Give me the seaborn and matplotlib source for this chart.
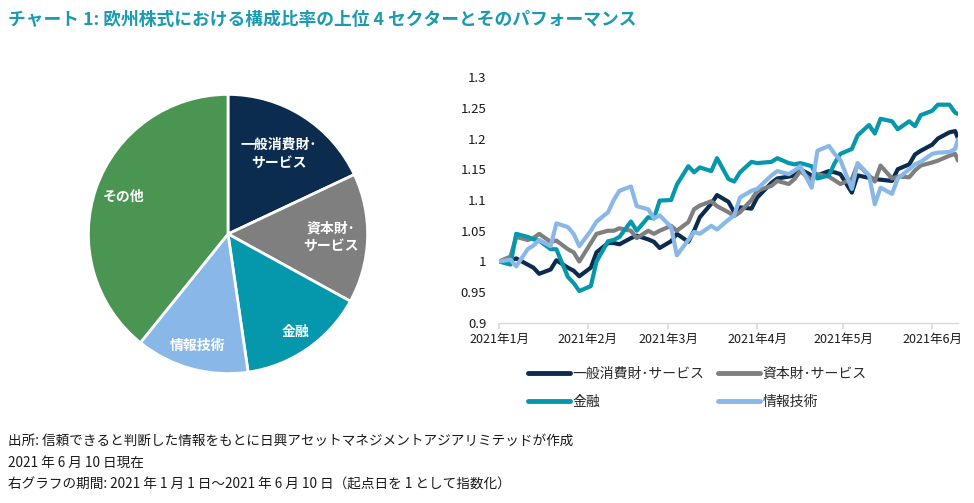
import pandas as pd
import numpy as np
import seaborn as sns
import matplotlib.pyplot as plt
from matplotlib.lines import Line2D

# --- data ---------------------------------------------------------------
title = 'チャート 1: 欧州株式における構成比率の上位 4 セクターとそのパフォーマンス'

sectors = ['一般消費財･サービス', '資本財･サービス', '金融', '情報技術']
pie_labels = ['一般消費財･\nサービス', '資本財･\nサービス', '金融', '情報技術', 'その他']
pie_shares = [18.0, 15.0, 14.7, 13.1, 39.2]

dates = ['2021-01-01', '2021-01-05', '2021-01-07', '2021-01-11', '2021-01-13',
         '2021-01-15', '2021-01-19', '2021-01-21', '2021-01-25', '2021-01-27',
         '2021-01-29', '2021-02-02', '2021-02-04', '2021-02-08', '2021-02-10',
         '2021-02-12', '2021-02-16', '2021-02-18', '2021-02-22', '2021-02-24',
         '2021-02-26', '2021-03-02', '2021-03-04', '2021-03-08', '2021-03-10',
         '2021-03-12', '2021-03-16', '2021-03-18', '2021-03-22', '2021-03-24',
         '2021-03-26', '2021-03-30', '2021-04-01', '2021-04-06', '2021-04-08',
         '2021-04-12', '2021-04-14', '2021-04-16', '2021-04-20', '2021-04-22',
         '2021-04-26', '2021-04-28', '2021-04-30', '2021-05-04', '2021-05-06',
         '2021-05-10', '2021-05-12', '2021-05-14', '2021-05-18', '2021-05-20',
         '2021-05-24', '2021-05-26', '2021-05-28', '2021-06-01', '2021-06-03',
         '2021-06-07', '2021-06-09', '2021-06-10']

consumer = [1.000, 1.002, 1.005, 0.995, 0.990, 0.980, 0.987, 1.002, 0.990, 0.985,
            0.976, 0.990, 1.015, 1.030, 1.030, 1.028, 1.038, 1.042, 1.036, 1.032,
            1.022, 1.033, 1.045, 1.032, 1.050, 1.072, 1.094, 1.108, 1.097, 1.080,
            1.088, 1.086, 1.104, 1.128, 1.135, 1.138, 1.140, 1.150, 1.140, 1.140,
            1.147, 1.145, 1.142, 1.112, 1.140, 1.136, 1.134, 1.133, 1.131, 1.150,
            1.158, 1.174, 1.180, 1.190, 1.200, 1.210, 1.212, 1.200]

industrials = [1.000, 1.008, 1.040, 1.035, 1.038, 1.045, 1.032, 1.034, 1.020, 1.015,
               1.000, 1.030, 1.045, 1.050, 1.050, 1.054, 1.050, 1.038, 1.050, 1.045,
               1.050, 1.058, 1.050, 1.064, 1.085, 1.091, 1.098, 1.090, 1.080, 1.074,
               1.080, 1.100, 1.115, 1.123, 1.131, 1.126, 1.134, 1.147, 1.132, 1.142,
               1.138, 1.132, 1.126, 1.134, 1.158, 1.140, 1.130, 1.156, 1.135, 1.138,
               1.137, 1.148, 1.156, 1.161, 1.164, 1.172, 1.175, 1.164]

financials = [1.000, 0.995, 1.045, 1.040, 1.036, 1.034, 1.020, 1.020, 0.975, 0.965,
              0.952, 0.960, 1.000, 1.033, 1.035, 1.040, 1.065, 1.050, 1.072, 1.070,
              1.099, 1.100, 1.125, 1.155, 1.145, 1.153, 1.147, 1.168, 1.134, 1.130,
              1.145, 1.162, 1.160, 1.162, 1.168, 1.160, 1.158, 1.160, 1.155, 1.135,
              1.140, 1.160, 1.175, 1.183, 1.205, 1.222, 1.208, 1.232, 1.228, 1.215,
              1.228, 1.220, 1.238, 1.245, 1.255, 1.255, 1.242, 1.240]

infotech = [1.000, 1.003, 0.992, 1.020, 1.026, 1.035, 1.025, 1.062, 1.056, 1.045,
            1.025, 1.050, 1.065, 1.080, 1.100, 1.115, 1.122, 1.090, 1.085, 1.070,
            1.075, 1.056, 1.010, 1.035, 1.048, 1.045, 1.058, 1.052, 1.068, 1.075,
            1.104, 1.115, 1.118, 1.140, 1.147, 1.142, 1.148, 1.155, 1.120, 1.180,
            1.188, 1.175, 1.165, 1.118, 1.160, 1.140, 1.093, 1.120, 1.110, 1.135,
            1.150, 1.158, 1.162, 1.175, 1.177, 1.178, 1.183, 1.199]

month_ticks = ['2021-01-01', '2021-02-01', '2021-03-01', '2021-04-01', '2021-05-01', '2021-06-01']
month_labels = ['2021年1月', '2021年2月', '2021年3月', '2021年4月', '2021年5月', '2021年6月']
y_ticks = [0.9, 0.95, 1.0, 1.05, 1.1, 1.15, 1.2, 1.25, 1.3]
y_labels = ['0.9', '0.95', '1', '1.05', '1.1', '1.15', '1.2', '1.25', '1.3']

notes = ['出所: 信頼できると判断した情報をもとに日興アセットマネジメントアジアリミテッドが作成',
         '2021 年 6 月 10 日現在',
         '右グラフの期間: 2021 年 1 月 1 日～2021 年 6 月 10 日（起点日を 1 として指数化）']

# --- style ----------------------------------------------------------------
line_colors = ['#0b2c4e', '#7f7f7f', '#0598ac', '#89b8e8']
pie_colors = line_colors + ['#4b9553']
label_r = [0.68, 0.74, 0.85, 0.83, 0.79]

sns.set_theme(style='white')
plt.rcParams['font.family'] = ['Noto Sans CJK JP', 'DejaVu Sans']

fig = plt.figure(figsize=(9.74, 5.03), dpi=100)

fig.text(8 / 974, 1 - 20 / 503, title, color='#1a9bb0', fontsize=12.8,
         fontweight='bold', ha='left', va='center')

# pie
ax_pie = fig.add_axes([87 / 974, (503 - 375) / 503, 282 / 974, 282 / 503])
wedges, _ = ax_pie.pie(pie_shares, colors=pie_colors, startangle=90, counterclock=False,
                       wedgeprops=dict(edgecolor='white', linewidth=2))
ax_pie.set_xlim(-1.01, 1.01)
ax_pie.set_ylim(-1.01, 1.01)
for w, lab, r in zip(wedges, pie_labels, label_r):
    th = np.deg2rad((w.theta1 + w.theta2) / 2)
    ax_pie.text(r * np.cos(th), r * np.sin(th), lab, ha='center', va='center',
                color='white', fontsize=10, fontweight='bold', linespacing=1.35)

# line chart
df = pd.DataFrame({'date': pd.to_datetime(dates), sectors[0]: consumer,
                   sectors[1]: industrials, sectors[2]: financials, sectors[3]: infotech})
long_df = df.melt(id_vars='date', var_name='sector', value_name='index')

ax = fig.add_axes([499 / 974, (503 - 323) / 503, 459 / 974, 246 / 503])
sns.lineplot(data=long_df, x='date', y='index', hue='sector', hue_order=sectors,
             palette=line_colors, linewidth=3, ax=ax, legend=False)

ax.set_xlim(pd.Timestamp('2021-01-01'), pd.Timestamp('2021-06-10'))
ax.set_ylim(0.9, 1.3)
ax.set_xticks(pd.to_datetime(month_ticks))
ax.set_xticklabels(month_labels)
ax.set_yticks(y_ticks)
ax.set_yticklabels(y_labels)
ax.set_xlabel('')
ax.set_ylabel('')
for s in ['top', 'right', 'left']:
    ax.spines[s].set_visible(False)
ax.spines['bottom'].set_color('#d9d9d9')
ax.spines['bottom'].set_linewidth(1)
ax.tick_params(axis='x', bottom=True, length=4, color='#d9d9d9', pad=3,
               labelsize=9, labelcolor='#1a1a1a')
ax.tick_params(axis='y', left=False, pad=3, labelsize=9.5, labelcolor='#1a1a1a')
ax.grid(False)

# legend fills column-wise, so reorder to get rows: 一般消費財/資本財, 金融/情報技術
order = [0, 2, 1, 3]
handles = [Line2D([0], [0], color=line_colors[i], linewidth=3.5) for i in order]
fig.legend(handles, [sectors[i] for i in order], loc='upper left',
           bbox_to_anchor=(528 / 974, 1 - 367 / 503),
           ncol=2, frameon=False, fontsize=10, handlelength=3.0, handletextpad=0.2,
           columnspacing=1.0, labelspacing=1.0, borderpad=0, borderaxespad=0)

for i, t in enumerate(notes):
    fig.text(8 / 974, 1 - (441 + 22 * i) / 503, t, fontsize=9.8, color='#1a1a1a',
             ha='left', va='center')

fig.savefig('out.png', dpi=100)
